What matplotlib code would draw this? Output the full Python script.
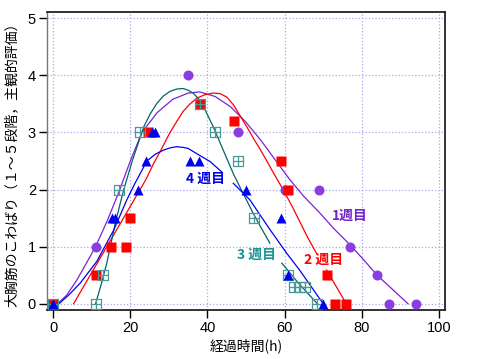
import numpy as np
import matplotlib
matplotlib.use("Agg")
import matplotlib.pyplot as plt
from matplotlib.path import Path

plt.rcParams['font.family'] = ['Noto Sans CJK JP', 'DejaVu Sans']

nan = np.nan

# measured points (hours, stiffness score)
w1_x = [0, 11, 35, 48, 60, 69, 77, 84, 87, 94]
w1_y = [0, 1, 4, 3, 2, 2, 1, 0.5, 0, 0]
w2_x = [0, 11, 15, 19, 20, 24.5, 38, 47, 59, 61, 71, 73, 76]
w2_y = [0, 0.5, 1, 1, 1.5, 3, 3.5, 3.2, 2.5, 2, 0.5, 0, 0]
w3_x = [0, 11, 13, 17, 22.6, 38, 42, 48, 52, 61, 62.5, 64, 65.2, 68.5]
w3_y = [0, 0, 0.5, 2, 3, 3.5, 3, 2.5, 1.5, 0.5, 0.3, 0.3, 0.3, 0]
w4_x = [0, 15.2, 16.1, 22, 24, 25.5, 26.5, 35.6, 37.9, 50, 59, 61, 70]
w4_y = [0, 1.5, 1.5, 2, 2.5, 3, 3, 2.5, 2.5, 2, 1.5, 0.5, 0]

# fitted curves (nan = gap behind label)
c1_x = [1.2, 3.5, 6, 8.7, 11, 14, 17, 20, 23, 27, 31, 35, 38, 42, 46, 50,
        54, 58, 61.4, 65, 69, 73, 77, 80.5, 84, 88, 92]
c1_y = [0, 0.15, 0.4, 0.72, 1.0, 1.45, 1.95, 2.5, 3.0, 3.35, 3.58, 3.69,
        3.71, 3.63, 3.45, 3.18, 2.85, 2.48, 2.17, 1.88, 1.6, 1.3, 1.03,
        0.77, 0.5, 0.25, 0]
c2_x = [5.3, 24, 26, 28, 30.3, 32.1, 33.7, 35.5, 37.2, 39.3, 41.5, 43.3, 45,
        46.8, 48.4, 50.2, 51.9, 53.7, 55.4, 57.3, 59.7, 62, 64, 66, 68.3,
        nan, 70.9, 76]
c2_y = [0, 2.17, 2.45, 2.7, 3.0, 3.2, 3.37, 3.5, 3.6, 3.66, 3.69, 3.68,
        3.62, 3.48, 3.3, 3.1, 2.9, 2.7, 2.5, 2.27, 1.99, 1.7, 1.43, 1.16,
        0.88, nan, 0.59, 0]
c3_x = [11, 12.5, 13.9, 16.1, 18.3, 20.5, 23.5, 25.2, 26.9, 28.6, 30.3, 32,
        33.7, 35, 36.3, 37.7, 39, 41.5, 44.1, 46.7, 48.6, 51.9, 54, 56.2,
        nan, 59.3, 63.6, 68.5]
c3_y = [0, 0.35, 0.71, 1.41, 2.0, 2.5, 3.1, 3.33, 3.51, 3.64, 3.72, 3.76,
        3.77, 3.74, 3.69, 3.59, 3.45, 3.1, 2.69, 2.28, 2.02, 1.58, 1.32,
        1.06, nan, 0.71, 0.36, 0]
c4_x = [1.5, 4, 7, 11.3, 15.7, 19.1, 21.3, 24.3, 26.5, 28.6, 30.3, 32, 33.6,
        35, 37.2, 40.7, 43.7, nan, 46.7, 51, 56.2, 60.6, 64, 67, 70]
c4_y = [0, 0.15, 0.36, 0.74, 1.29, 1.82, 2.12, 2.5, 2.62, 2.69, 2.73, 2.75,
        2.74, 2.72, 2.63, 2.49, 2.31, nan, 2.11, 1.82, 1.3, 0.88, 0.58,
        0.29, 0]

purple = '#8b3de0'
purple_line = '#7a22d8'
red = '#ff0000'
teal_mk = '#4a9898'
teal_line = '#006666'
teal_txt = '#179494'
blue = '#0000f0'

# square with a cross inside
box_cross = Path([(-1, -1), (1, -1), (1, 1), (-1, 1), (-1, -1),
                  (-1, 0), (1, 0), (0, -1), (0, 1)],
                 [Path.MOVETO, Path.LINETO, Path.LINETO, Path.LINETO, Path.CLOSEPOLY,
                  Path.MOVETO, Path.LINETO, Path.MOVETO, Path.LINETO])

fig = plt.figure(figsize=(4.8, 3.59), dpi=100)
ax = fig.add_axes([47/480, 49/359, 398/480, 298/359])

ax.plot(c1_x, c1_y, color=purple_line, lw=0.9, zorder=2)
ax.plot(c2_x, c2_y, color=red, lw=0.9, zorder=2)
ax.plot(c3_x, c3_y, color=teal_line, lw=0.9, zorder=2)
ax.plot(c4_x, c4_y, color=blue, lw=0.9, zorder=2)

ax.plot(w1_x, w1_y, 'o', color=purple, ms=7.2, mec='none', zorder=3)
ax.plot(w2_x, w2_y, 's', color=red, ms=7.0, mec='none', zorder=3)
ax.plot(w3_x, w3_y, ls='none', marker=box_cross, ms=6.6, mfc='none',
        mec=teal_mk, mew=0.9, zorder=4)
ax.plot(w4_x, w4_y, '^', color=blue, ms=7.4, mec='none', zorder=5)

ax.text(39.4, 2.18, '4 週目', color=blue, fontsize=10, fontweight='bold',
        ha='center', va='center')
ax.text(52.8, 0.85, '3 週目', color=teal_txt, fontsize=10, fontweight='bold',
        ha='center', va='center')
ax.text(70.1, 0.76, '2 週目', color=red, fontsize=10, fontweight='bold',
        ha='center', va='center')
ax.text(76.8, 1.54, '1週目', color='#7424cc', fontsize=10, fontweight='bold',
        ha='center', va='center')

ax.set_xlim(-1.6, 101.6)
ax.set_ylim(-0.11, 5.11)
ax.set_xticks([0, 20, 40, 60, 80, 100])
ax.set_yticks([0, 1, 2, 3, 4, 5])
ax.grid(True, ls=':', color='#a8a8f0', lw=0.9)
ax.set_axisbelow(True)
ax.tick_params(direction='out', length=6, width=1, pad=2, labelsize=10.5)
for lab in ax.get_xticklabels() + ax.get_yticklabels():
    lab.set_fontfamily('Liberation Sans')
for side in ['top', 'right', 'bottom']:
    ax.spines[side].set_linewidth(1.3)
    ax.spines[side].set_color('#222222')
ax.spines['left'].set_color('#777777')
ax.spines['left'].set_linewidth(1.0)

ax.set_xlabel('経過時間(h)', fontsize=10)
ax.set_ylabel('大胸筋のこわばり（１～５段階，主観的評価）', fontsize=10)
ax.xaxis.set_label_coords(0.5, -0.095)
ax.yaxis.set_label_coords(-0.072, 0.5)

fig.savefig('out.png', dpi=100)
